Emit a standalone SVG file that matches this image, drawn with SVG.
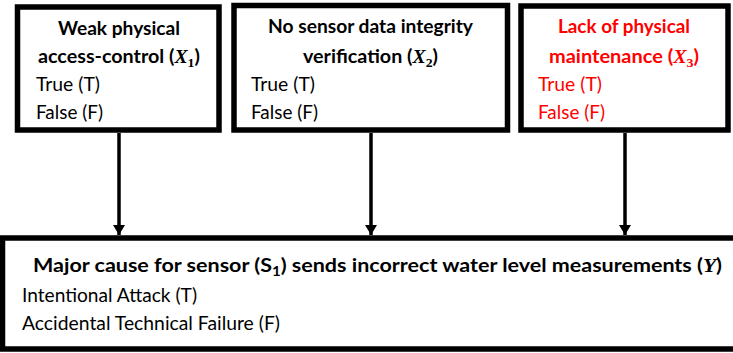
<svg xmlns="http://www.w3.org/2000/svg" width="733" height="353" viewBox="0 0 733 353">
<defs>
<style>
.box{fill:#fff;stroke:#000;stroke-width:5.5}
.t{font-family:Lato,"Liberation Sans",sans-serif;font-size:18.5px;fill:#000}
.b{font-weight:bold}
.red{fill:#ff0000}
.m{font-family:"Liberation Serif",serif;font-style:italic;font-weight:bold}
.sub{font-family:"Liberation Serif",serif;font-style:normal;font-size:13px;font-weight:bold}
.subs{font-size:13px}
.conn{stroke:#000;stroke-width:3.5;fill:none}
</style>
<marker id="ah" markerWidth="10" markerHeight="12" refX="10" refY="6" orient="auto" markerUnits="userSpaceOnUse">
<path d="M0,0 L10,6 L0,12 z" fill="#000"/>
</marker>
</defs>
<rect width="733" height="353" fill="#fff"/>
<g id="connectors">
<line class="conn" x1="119" y1="133" x2="119" y2="235" marker-end="url(#ah)"/>
<line class="conn" x1="371" y1="133" x2="371" y2="235" marker-end="url(#ah)"/>
<line class="conn" x1="625" y1="133" x2="625" y2="235" marker-end="url(#ah)"/>
</g>
<g id="x1">
<rect class="box" x="17.5" y="7" width="201.5" height="123"/>
<text class="t b" x="119" y="35" text-anchor="middle" textLength="122" lengthAdjust="spacingAndGlyphs">Weak physical</text>
<text class="t b" x="38" y="63" textLength="162" lengthAdjust="spacingAndGlyphs">access-control (<tspan class="m">X</tspan><tspan class="sub" dy="4">1</tspan><tspan dy="-4">)</tspan></text>
<text class="t" x="36" y="91" textLength="64" lengthAdjust="spacingAndGlyphs">True (T)</text>
<text class="t" x="36" y="119" textLength="67" lengthAdjust="spacingAndGlyphs">False (F)</text>
</g>
<g id="x2">
<rect class="box" x="234" y="5.5" width="273.5" height="124.5"/>
<text class="t b" x="370.5" y="33" text-anchor="middle" textLength="205" lengthAdjust="spacingAndGlyphs">No sensor data integrity</text>
<text class="t b" x="303" y="63" textLength="135" lengthAdjust="spacingAndGlyphs">verification (<tspan class="m">X</tspan><tspan class="sub" dy="4">2</tspan><tspan dy="-4">)</tspan></text>
<text class="t" x="251" y="91" textLength="64" lengthAdjust="spacingAndGlyphs">True (T)</text>
<text class="t" x="251" y="119" textLength="67" lengthAdjust="spacingAndGlyphs">False (F)</text>
</g>
<g id="x3">
<rect class="box" x="521" y="6" width="207" height="124"/>
<text class="t b red" x="624" y="33" text-anchor="middle" textLength="132" lengthAdjust="spacingAndGlyphs">Lack of physical</text>
<text class="t b red" x="549" y="63" textLength="150" lengthAdjust="spacingAndGlyphs">maintenance (<tspan class="m">X</tspan><tspan class="sub" dy="4">3</tspan><tspan dy="-4">)</tspan></text>
<text class="t red" x="538" y="91" textLength="64" lengthAdjust="spacingAndGlyphs">True (T)</text>
<text class="t red" x="538" y="119" textLength="67" lengthAdjust="spacingAndGlyphs">False (F)</text>
</g>
<g id="y">
<rect class="box" x="2.5" y="238" width="745" height="111"/>
<text class="t b" x="33" y="272" textLength="689" lengthAdjust="spacingAndGlyphs">Major cause for sensor (S<tspan class="subs" dy="4">1</tspan><tspan dy="-4">) sends incorrect water level measurements (</tspan><tspan class="m" font-weight="normal">Y</tspan>)</text>
<text class="t" x="22" y="302" textLength="175" lengthAdjust="spacingAndGlyphs">Intentional Attack (T)</text>
<text class="t" x="22" y="330" textLength="258" lengthAdjust="spacingAndGlyphs">Accidental Technical Failure (F)</text>
</g>
</svg>
